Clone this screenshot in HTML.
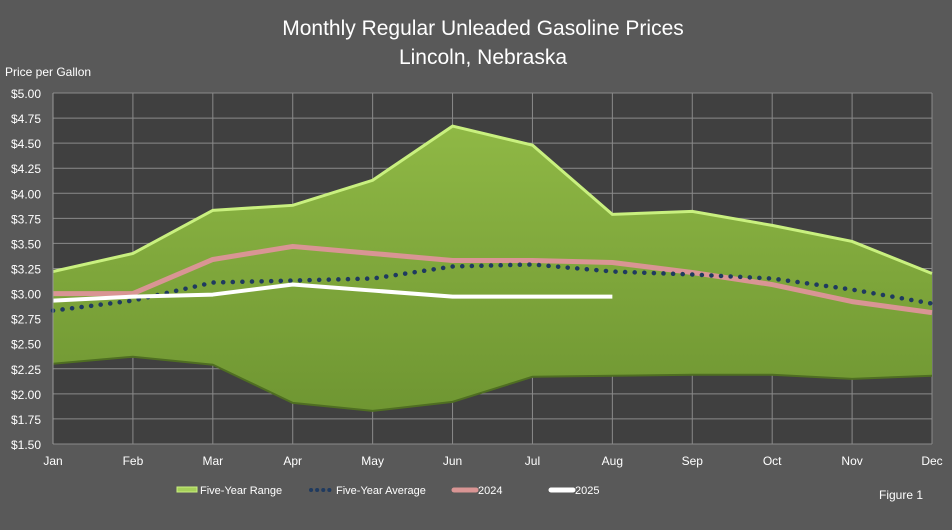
<!DOCTYPE html>
<html><head><meta charset="utf-8"><style>
html,body{margin:0;padding:0;background:#595959;}
svg{display:block;font-family:"Liberation Sans",sans-serif;}
</style></head><body>
<svg id="chart" width="952" height="530" viewBox="0 0 952 530" xmlns="http://www.w3.org/2000/svg">
<defs>
<linearGradient id="g" x1="0" y1="0" x2="0" y2="1">
<stop offset="0" stop-color="#8fb845"/><stop offset="1" stop-color="#6f9632"/>
</linearGradient>
</defs>
<rect width="952" height="530" fill="#595959"/>
<text x="483" y="35" text-anchor="middle" fill="#fff" font-size="21">Monthly Regular Unleaded Gasoline Prices</text>
<text x="483" y="64" text-anchor="middle" fill="#fff" font-size="21">Lincoln, Nebraska</text>
<text x="5" y="76" fill="#fff" font-size="12">Price per Gallon</text>
<rect x="53" y="93" width="879" height="351" fill="#404040"/>
<g id="grid"></g><g id="series"></g><g id="axes"></g>
<g font-size="11" fill="#fff">
<rect x="177" y="487" width="20" height="5" fill="#a6d05a" stroke="#c9f07f" stroke-width="1"/>
<text x="200" y="494" fill="#fff">Five-Year Range</text>
<line x1="311" y1="490" x2="331" y2="490" stroke="#1f3a5f" stroke-width="4" stroke-dasharray="0.1 6" stroke-linecap="round"/>
<text x="336" y="494" fill="#fff">Five-Year Average</text>
<line x1="454" y1="490" x2="476" y2="490" stroke="#d99594" stroke-width="5" stroke-linecap="round"/>
<text x="478" y="494" fill="#fff">2024</text>
<line x1="551" y1="490" x2="573" y2="490" stroke="#fff" stroke-width="5" stroke-linecap="round"/>
<text x="575" y="494" fill="#fff">2025</text>
<text x="879" y="499" fill="#fff" font-size="12">Figure 1</text>
</g>
</svg>
<script>
const months=["Jan","Feb","Mar","Apr","May","Jun","Jul","Aug","Sep","Oct","Nov","Dec"];
const rangeMax=[3.22,3.40,3.83,3.88,4.13,4.67,4.48,3.79,3.82,3.68,3.52,3.20];
const rangeMin=[2.30,2.37,2.29,1.91,1.83,1.92,2.17,2.18,2.19,2.19,2.15,2.18];
const avg=[2.83,2.93,3.11,3.13,3.15,3.27,3.29,3.22,3.19,3.15,3.04,2.90];
const y2024=[3.00,3.00,3.34,3.47,3.40,3.33,3.33,3.31,3.21,3.09,2.92,2.81];
const y2025=[2.93,2.97,2.99,3.09,3.03,2.97,2.97,2.97];
const yTicks=[1.5,1.75,2,2.25,2.5,2.75,3,3.25,3.5,3.75,4,4.25,4.5,4.75,5];
const NS="http://www.w3.org/2000/svg";
const X0=53,X1=932,Y0=93,Y1=444,YMIN=1.5,YMAX=5;
const xs=i=>X0+i*(X1-X0)/(months.length-1);
const ys=v=>Y1-(v-YMIN)/(YMAX-YMIN)*(Y1-Y0);
function mk(tag,attrs,parent){const e=document.createElementNS(NS,tag);for(const k in attrs)e.setAttribute(k,attrs[k]);parent.appendChild(e);return e;}
const grid=document.getElementById('grid'),ser=document.getElementById('series'),ax=document.getElementById('axes');
yTicks.forEach(t=>{
 const l=mk('line',{x1:X0,x2:X1,y1:ys(t),y2:ys(t),stroke:'#8a8a8a','stroke-width':1},grid);
 
 
 const tx=mk('text',{x:41,y:ys(t)+5,'text-anchor':'end',fill:'#fff','font-size':12},ax);
 tx.textContent='$'+t.toFixed(2);
 
 
});
months.forEach((m,i)=>{
 const l=mk('line',{x1:xs(i),x2:xs(i),y1:Y0,y2:Y1,stroke:'#8a8a8a','stroke-width':1},grid);
 
 
 const tx=mk('text',{x:xs(i),y:465,'text-anchor':'middle',fill:'#fff','font-size':12},ax);
 tx.textContent=m;
 
 
});
const yAxisLine=mk('line',{x1:X0,x2:X0,y1:Y0,y2:Y1,stroke:'#999'},ax);


const pts=a=>a.map((v,i)=>xs(i)+','+ys(v)).join(' ');
const rangeArea=mk('polygon',{points:pts(rangeMax)+' '+rangeMin.map((v,i)=>[xs(i),ys(v)]).reverse().map(p=>p.join(',')).join(' '),fill:'url(#g)'},ser);


const topEdge=mk('polyline',{points:pts(rangeMax),fill:'none',stroke:'#c9f07f','stroke-width':3},ser);


const botEdge=mk('polyline',{points:pts(rangeMin),fill:'none',stroke:'#4f6e22','stroke-width':2},ser);


const line24=mk('polyline',{points:pts(y2024),fill:'none',stroke:'#d99594','stroke-width':5,'stroke-linejoin':'round'},ser);


const lineAvg=mk('path',{d:'M'+avg.map((v,i)=>xs(i)+','+ys(v)).join(' L'),fill:'none',stroke:'#1f3a5f','stroke-width':4.5,'stroke-dasharray':'0.1 9.5','stroke-linecap':'round'},ser);


const line25=mk('polyline',{points:pts(y2025),fill:'none',stroke:'#fff','stroke-width':4,'stroke-linejoin':'round'},ser);


</script>
</body></html>
